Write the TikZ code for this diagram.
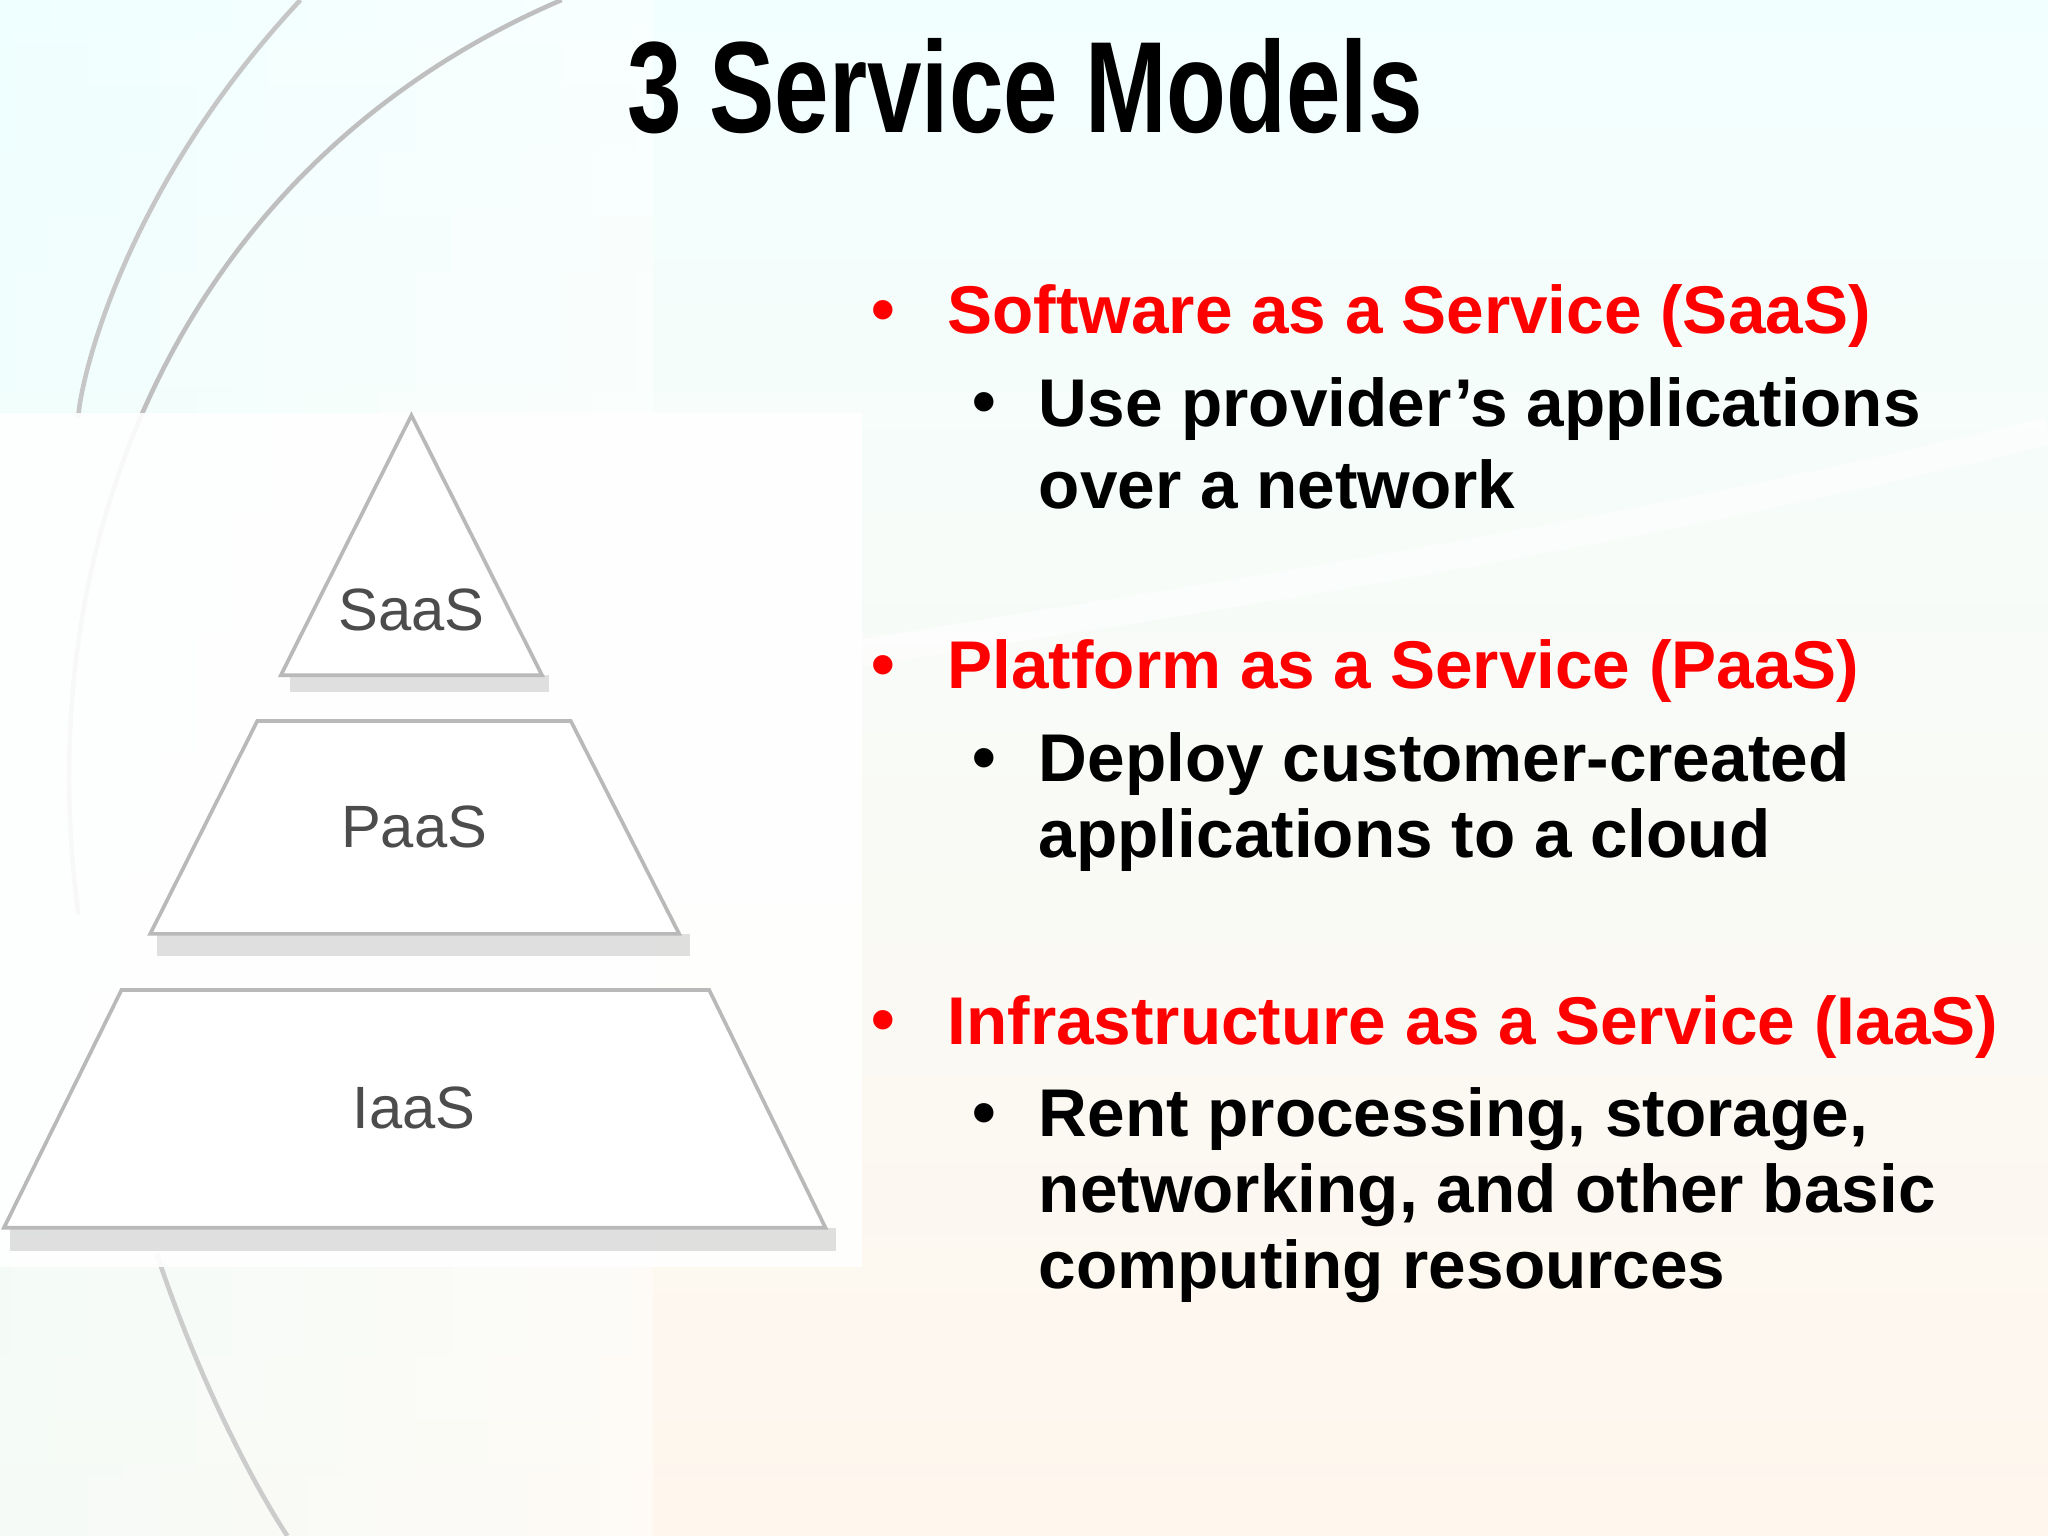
\documentclass[tikz,border=0pt]{standalone}
\usepackage{fontspec}
\setmainfont{Liberation Sans}
\usepackage{graphicx}
\begin{document}
\begin{tikzpicture}[x=0.01cm,y=-0.01cm,
  bul/.style={anchor=west,font=\fontsize{14.7}{17}\selectfont\bfseries},
  lay/.style={draw=gray!55,line width=0.8pt,fill=white},
  shad/.style={fill=black!35,opacity=0.35},
  lbl/.style={font=\fontsize{13}{15}\selectfont,text=black!70}]
\useasboundingbox (0,0) rectangle (1568,1176);
\shade[top color=cyan!5!white,bottom color=orange!7!white] (0,0) rectangle (1568,1176);
\shade[left color=cyan!7!white,right color=white,opacity=0.5] (0,0) rectangle (500,1176);
\draw[gray!50,line width=1pt] (430,0) .. controls (150,120) and (20,400) .. (60,700);
\draw[gray!45,line width=1pt] (230,0) .. controls (90,150) and (60,300) .. (60,320);
\draw[gray!40,line width=1pt] (120,960) .. controls (150,1050) and (190,1130) .. (220,1176);
\draw[white,line width=6pt,opacity=0.6] (1568,330) .. controls (1200,420) and (900,460) .. (660,500);
% title
\node (title) at (785,66) {\resizebox{6.08cm}{0.72cm}{\bfseries 3 Service Models}};
% panel
\fill[white,opacity=0.9] (0,316) rectangle (660,970);
% shadows
\fill[shad] (222,517) rectangle (420,530);
\fill[shad] (120,715) rectangle (528,732);
\fill[shad] (8,940) rectangle (640,958);
\draw[lay] (315,318) -- (415,517) -- (215,517) -- cycle;
\draw[lay] (197,552) -- (437,552) -- (520,715) -- (115,715) -- cycle;
\draw[lay] (93,758) -- (543,758) -- (632,940) -- (3,940) -- cycle;
\node[lbl] (s) at (315,467) {SaaS};
\node[lbl] (p) at (317,633) {PaaS};
\node[lbl] (i) at (317,848) {IaaS};
% bullets
\node[bul,text=red] (b1) at (655,242) {•};
\node[bul,text=red] (t1) at (713,242) {Software as a Service (SaaS)};
\node[bul,text=red] (b2) at (655,514) {•};
\node[bul,text=red] (t2) at (713,514) {Platform as a Service (PaaS)};
\node[bul,text=red] (b3) at (655,786) {•};
\node[bul,text=red] (t3) at (713,786) {Infrastructure as a Service (IaaS)};
\node[bul] (c1) at (732,313) {•};
\node[bul] (u1) at (783,313) {Use provider’s applications};
\node[bul] (u1b) at (783,371) {over a network};
\node[bul] (c2) at (732,585) {•};
\node[bul] (u2) at (783,585) {Deploy customer-created};
\node[bul] (u2b) at (783,643) {applications to a cloud};
\node[bul] (c3) at (732,857) {•};
\node[bul] (u3) at (783,857) {Rent processing, storage,};
\node[bul] (u3b) at (783,915) {networking, and other basic};
\node[bul] (u3c) at (783,973) {computing resources};
\end{tikzpicture}
\end{document}
